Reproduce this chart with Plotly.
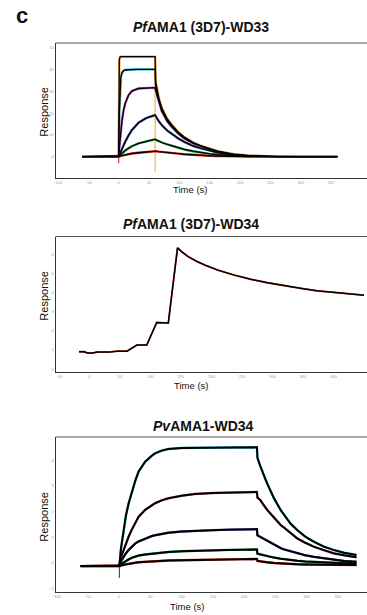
import plotly.graph_objects as go

W, H = 367, 615
FONT = "Liberation Sans, Arial, sans-serif"

# ---------------- Panel 1: PfAMA1 (3D7)-WD33 ----------------
T1 = [-60, 0, 1, 2, 3.5, 5.4, 8, 10.8, 16.3, 21.7, 32.7, 45, 60, 60.8, 66, 71, 80, 87,
      98, 108, 122, 136, 150, 163, 190, 218, 260, 300, 360]
P1_A = [0, 0, 44.5, 45.7, 45.9, 45.9, 45.9, 45.9, 45.9, 45.9, 45.9, 45.9, 45.9, 34.5, 27, 22.3,
        17.3, 14.8, 11.3, 9.0, 6.6, 4.9, 3.5, 2.5, 1.1, 0.4, 0.05, 0, 0]
P1_B = [0, 0, 20, 30, 36.5, 38.5, 39.5, 39.8, 40, 40, 40.1, 40.1, 40.1, 33, 26, 21.6,
        16.8, 14.3, 11.0, 8.7, 6.4, 4.75, 3.4, 2.4, 1.0, 0.35, 0.05, 0, 0]
P1_C = [0, 0, 4.0, 7.6, 12.0, 16.6, 21.2, 24.5, 28.3, 30.1, 31.3, 31.6, 31.7, 30.5, 25.5, 20.8,
        16.2, 13.8, 10.6, 8.4, 6.2, 4.6, 3.3, 2.3, 0.9, 0.3, 0.05, 0, 0]
P1_D = [0, 0, 0.7, 1.4, 2.4, 3.6, 5.2, 6.9, 9.8, 12.2, 15.6, 17.7, 19.1, 18.6, 16.3, 14.5,
        12.0, 10.5, 8.4, 6.8, 5.0, 3.8, 2.7, 1.9, 0.5, 0.15, 0, 0, 0]
P1_E = [0, 0, 0.3, 0.6, 1.0, 1.5, 2.2, 2.8, 3.9, 4.8, 6.1, 7.1, 8.0, 7.8, 7.0, 6.5,
        5.6, 5.0, 4.1, 3.3, 2.5, 1.8, 1.3, 0.9, 0.4, 0.15, 0, 0, 0]
P1_F = [0, 0, 0.1, 0.2, 0.3, 0.5, 0.7, 0.9, 1.2, 1.45, 1.8, 2.2, 2.6, 2.5, 2.3, 2.2,
        1.9, 1.7, 1.4, 1.1, 0.8, 0.6, 0.4, 0.3, 0.1, 0, 0, 0, 0]
P1_SERIES = [P1_F, P1_E, P1_D, P1_C, P1_B, P1_A]
P1_COLORS = ["#d83a2a", "#2f9e55", "#4a5aa8", "#c64bc4", "#2fb3c4", "#f0a53a"]
P1_SPIKE_T = [60, 60]
P1_SPIKE_Y = [45.9, -7]
P1_INJ_T = [0, 0]
P1_INJ_Y = [2.8, -3]
P1_XTICKS = [-100, -50, 0, 50, 100, 150, 200, 250, 300, 350]
P1_YTICKS = [-10, 0, 10, 20, 30, 40, 50]

# ---------------- Panel 2: PfAMA1 (3D7)-WD34 ----------------
T2 = [-16.8, -8.6, -3.2, 4.9, 13, 32, 45.4, 61.7, 77.9, 94, 110.4, 129.3, 144.4, 150.9,
      161.8, 175, 188.8, 210.5, 237.4, 264.5, 291.7, 318.6, 345.7, 372.8, 399.8, 426.8, 449.6]
P2_Y = [0.91, 0.91, 0.85, 0.84, 0.89, 0.89, 0.94, 0.94, 1.26, 1.26, 2.44, 2.41, 6.35, 6.15,
        5.89, 5.65, 5.45, 5.18, 4.92, 4.70, 4.52, 4.36, 4.23, 4.10, 4.02, 3.93, 3.87]
P2_XTICKS = [-50, 0, 50, 100, 150, 200, 250, 300, 350, 400, 450]
P2_YTICKS = [0, 1, 2, 3, 4, 5, 6]

# ---------------- Panel 3: PvAMA1-WD34 ----------------
T3 = [-61.4, 0.5, 3, 7.4, 11, 15.4, 20, 25.9, 31.2, 41.8, 52.4, 57.6, 68.2, 78.9, 100, 121,
      150, 174, 200, 220.6, 221.5, 226, 236.6, 248, 258.7, 264, 274.6, 285, 298, 311.5,
      327.7, 343, 360, 380]
P3_1 = [-0.12, -0.12, 0.55, 1.29, 1.85, 2.33, 2.75, 3.2, 3.56, 3.95, 4.18, 4.27, 4.38, 4.44,
        4.48, 4.49, 4.5, 4.5, 4.51, 4.51, 4.1, 3.78, 3.12, 2.52, 2.06, 1.87, 1.53, 1.29, 1.03,
        0.83, 0.64, 0.51, 0.40, 0.31]
P3_2 = [-0.12, -0.12, 0.22, 0.52, 0.76, 1.03, 1.28, 1.55, 1.80, 2.07, 2.26, 2.33, 2.44, 2.52,
        2.62, 2.69, 2.73, 2.75, 2.76, 2.77, 2.55, 2.45, 2.08, 1.76, 1.48, 1.38, 1.17, 0.96,
        0.79, 0.64, 0.50, 0.38, 0.30, 0.22]
P3_3 = [-0.12, -0.12, 0.06, 0.26, 0.38, 0.51, 0.62, 0.76, 0.84, 0.96, 1.05, 1.08, 1.14, 1.18,
        1.23, 1.26, 1.28, 1.30, 1.31, 1.32, 1.08, 1.02, 0.86, 0.70, 0.58, 0.53, 0.45, 0.38,
        0.30, 0.24, 0.18, 0.12, 0.08, 0.05]
P3_4 = [-0.12, -0.12, -0.05, 0.03, 0.09, 0.14, 0.2, 0.25, 0.29, 0.33, 0.36, 0.38, 0.40, 0.43,
        0.46, 0.48, 0.50, 0.51, 0.52, 0.53, 0.36, 0.33, 0.27, 0.21, 0.17, 0.15, 0.12, 0.09,
        0.06, 0.04, 0.02, 0.0, -0.01, -0.01]
P3_5 = [-0.12, -0.12, -0.1, -0.07, -0.05, -0.03, -0.01, 0.01, 0.03, 0.05, 0.07, 0.08, 0.09,
        0.10, 0.11, 0.12, 0.13, 0.14, 0.15, 0.16, 0.08, 0.06, 0.03, 0.0, -0.02, -0.03, -0.04,
        -0.05, -0.06, -0.06, -0.07, -0.07, -0.08, -0.08]
P3_SERIES = [P3_5, P3_4, P3_3, P3_2, P3_1]
P3_COLORS = ["#d83a2a", "#2f9e55", "#5a5ab8", "#d07a8a", "#33b8c8"]
P3_INJ_T = [0.5, 0.5]
P3_INJ_Y = [0.1, -0.58]
P3_XTICKS = [-100, -50, 0, 50, 100, 150, 200, 250, 300, 350]
P3_YTICKS = [-1, 0, 1, 2, 3, 4]

TITLES = ["<b><i>Pf</i>AMA1 (3D7)-WD33</b>", "<b><i>Pf</i>AMA1 (3D7)-WD34</b>",
          "<b><i>Pv</i>AMA1-WD34</b>"]

fig = go.Figure()


def line(t, y, color, xa, ya, w):
    fig.add_trace(go.Scatter(x=t, y=y, mode="lines", line=dict(color=color, width=w),
                             xaxis=xa, yaxis=ya, hoverinfo="skip", showlegend=False))


# panel 1: coloured data under black fits
for ser, col in zip(P1_SERIES, P1_COLORS):
    line(T1, ser, col, "x", "y", 2.4)
line(P1_SPIKE_T, P1_SPIKE_Y, "#f0a53a", "x", "y", 1)
line(P1_INJ_T, P1_INJ_Y, "#d83a2a", "x", "y", 1.2)
for ser in P1_SERIES:
    line(T1, ser, "#000", "x", "y", 1.3)

# panel 2
line(T2, P2_Y, "#d83a2a", "x2", "y2", 1.8)
line(T2, P2_Y, "#000", "x2", "y2", 1.5)

# panel 3
for ser, col in zip(P3_SERIES, P3_COLORS):
    line(T3, ser, col, "x3", "y3", 2.4)
line(P3_INJ_T, P3_INJ_Y, "#333", "x3", "y3", 1)
for ser in P3_SERIES:
    line(T3, ser, "#000", "x3", "y3", 2.0)

XD = [53 / W, 1.0]


def ydom(top, bot):
    return [1 - bot / H, 1 - top / H]


def ax(rng, tickvals, dom, anchor):
    return dict(range=rng, domain=dom, anchor=anchor, tickvals=tickvals,
                ticks="", showgrid=False, zeroline=False, showline=True,
                linecolor="#333", linewidth=1,
                tickfont=dict(size=4, color="#999", family=FONT))


fig.update_layout(
    width=W, height=H, margin=dict(l=0, r=0, t=0, b=0),
    paper_bgcolor="white", plot_bgcolor="white", showlegend=False,
    xaxis=ax([-104, 409], P1_XTICKS, XD, "y"),
    yaxis=ax([-9.8, 52.2], P1_YTICKS, ydom(43, 178), "x"),
    xaxis2=ax([-55.2, 454.5], P2_XTICKS, XD, "y2"),
    yaxis2=ax([-0.15, 6.94], P2_YTICKS, ydom(236.5, 372), "x2"),
    xaxis3=ax([-101.6, 396.8], P3_XTICKS, XD, "y3"),
    yaxis3=ax([-1.13, 4.91], P3_YTICKS, ydom(437, 592), "x3"),
)

# top frame lines
for top in (43, 236.5, 437):
    fig.add_shape(type="line", xref="paper", yref="paper", x0=XD[0], x1=1,
                  y0=1 - top / H, y1=1 - top / H, line=dict(color="#555", width=1))


def ann(text, x, y, size, angle=0):
    fig.add_annotation(text=text, x=x / W, y=1 - y / H, xref="paper", yref="paper",
                       showarrow=False, xanchor="center", yanchor="middle",
                       textangle=angle, font=dict(size=size, color="#111", family=FONT))


ann("<b>c</b>", 19, 16, 22)
for txt, (x, y) in zip(TITLES, [(200, 27), (190, 224), (202, 426)]):
    ann(txt, x, y, 14)
for x, y in [(189, 189), (190, 385), (186, 606)]:
    ann("Time (s)", x, y, 9.5)
for y in [112, 296, 517]:
    ann("Response", 41, y, 11, angle=-90)

fig.write_html("out.html", config={"displayModeBar": False},
               post_script="document.body.style.margin='0';document.body.style.overflow='hidden';")
